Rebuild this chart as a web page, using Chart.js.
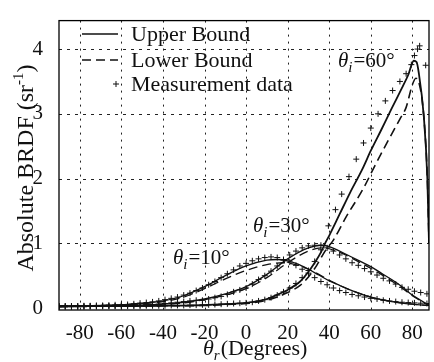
<!DOCTYPE html>
<html>
<head>
<meta charset="utf-8">
<script src="https://cdn.jsdelivr.net/npm/chart.js@4.4.1/dist/chart.umd.min.js"></script>
<style>
html, body { margin: 0; padding: 0; background: #fff; }
</style>
</head>
<body>
<canvas id="brdf" width="434" height="362"></canvas>
<script>
// axis ticks
const xTicks = [-80, -60, -40, -20, 0, 20, 40, 60, 80];
const yTicks = [0, 1, 2, 3, 4];

// measurement data, theta_i = 10
const meas10X = [-90, -87, -84, -81, -78, -75, -72, -69, -66, -63, -60, -57, -54, -51, -48, -45, -42, -39, -36, -33,
    -30, -27, -24, -21, -18, -15, -12, -9, -6, -3, 0, 3, 6, 9, 12, 15, 18, 21, 24, 27,
    30, 33, 36, 39, 42, 45, 48, 51, 54, 57, 60, 63, 66, 69, 72, 75, 78, 81, 84, 87];
const meas10Y = [.03, .03, .03, .03, .035, .035, .04, .04, .045, .05, .05, .055, .065, .075, .085, .095, .11, .13, .15, .17,
    .2, .23, .27, .31, .36, .41, .47, .53, .59, .65, .69, .73, .76, .78, .79, .78, .75, .71, .66, .6,
    .54, .47, .41, .36, .31, .27, .24, .21, .19, .17, .15, .14, .12, .11, .1, .09, .085, .08, .075, .07];

// measurement data, theta_i = 30
const meas30X = meas10X;
const meas30Y = [.02, .02, .02, .02, .02, .025, .025, .03, .03, .03, .035, .035, .04, .045, .05, .055, .06, .07, .08, .09,
    .1, .11, .12, .12, .14, .16, .18, .21, .25, .28, .31, .37, .44, .5, .57, .65, .74, .82, .88, .93,
    .96, .97, .97, .93, .88, .82, .76, .7, .66, .61, .56, .51, .46, .42, .37, .32, .29, .26, .24, .22];

// measurement data, theta_i = 60
const meas60X = [-90, -87, -84, -81, -78, -75, -72, -69, -66, -63, -60, -57, -54, -51, -48, -45, -42, -39, -36, -33,
    -30, -27, -24, -21, -18, -15, -12, -9, -6, -3, 0, 3, 6, 9, 12, 15, 18, 21, 24, 27,
    30, 33, 36, 39.6, 43, 46, 49.5, 53, 56.5, 60, 63.5, 67, 70.5, 74, 77, 79.5, 81, 82.5, 83.5, 86.4];
const meas60Y = [.03, .03, .03, .03, .03, .03, .03, .03, .03, .03, .03, .03, .03, .03, .035, .035, .035, .035, .04, .04,
    .04, .045, .045, .05, .05, .055, .06, .065, .07, .075, .08, .09, .11, .13, .16, .2, .25, .31, .38, .47,
    .58, .72, .9, 1.27, 1.52, 1.76, 2.03, 2.3, 2.55, 2.78, 3.0, 3.2, 3.36, 3.5, 3.62, 3.76, 3.9, 4.0, 4.05, 3.75];

// upper / lower bounds
const up10X = [-90, -60, -45, -40, -30, -20, -10, 0, 10, 15, 20, 25, 30, 35, 40, 45, 50, 55, 60, 70, 80, 88];
const up10Y = [.03, .05, .09, .11, .19, .33, .5, .65, .74, .75, .73, .68, .6, .51, .42, .35, .28, .22, .17, .1, .06, .04];
const low10X = [-90, -60, -40, -30, -20, -10, 0, 10, 18, 25, 30, 35, 40, 45, 50, 60, 70, 80, 88];
const low10Y = [.03, .05, .1, .17, .3, .45, .58, .67, .7, .66, .6, .52, .43, .35, .28, .17, .1, .06, .04];

const up30X = [-90, -40, -30, -20, -10, 0, 10, 20, 30, 36, 40, 45, 50, 55, 60, 65, 70, 75, 80, 84, 88];
const up30Y = [.02, .06, .09, .14, .22, .33, .52, .76, .93, .97, .95, .88, .8, .72, .64, .54, .44, .33, .2, .12, .04];
const low30X = [-90, -40, -30, -20, -10, 0, 10, 20, 30, 37, 45, 55, 65, 75, 80, 88];
const low30Y = [.02, .06, .08, .13, .2, .3, .47, .7, .88, .93, .86, .7, .52, .31, .19, .04];

const up60X = [-90, -60, -40, -20, -10, 0, 10, 16, 20, 26, 30, 33, 36, 38, 40, 45, 50, 56, 60, 65, 70, 75, 78, 80.7, 82, 83, 85.5, 87.2, 88, 88.6];
const up60Y = [.03, .03, .035, .045, .06, .08, .14, .22, .28, .41, .56, .7, .86, 1.0, 1.12, 1.45, 1.78, 2.15, 2.43, 2.75, 3.08, 3.4, 3.6, 3.82, 3.8, 3.65, 2.96, 2.0, 1.0, 0.2];
const low60X = [-90, -60, -40, -20, -10, 0, 10, 20, 26, 30, 34, 38, 42, 48, 56.3, 62, 68.9, 74, 77, 80, 81.7, 83, 85.5, 87.2, 88, 88.6];
const low60Y = [.03, .03, .035, .04, .055, .07, .12, .24, .35, .48, .66, .88, 1.05, 1.4, 1.84, 2.2, 2.62, 2.92, 3.1, 3.45, 3.55, 3.5, 2.96, 2.0, 1.0, 0.2];

const legendLabels = ['Upper Bound', 'Lower Bound', 'Measurement data'];

const FONT = '"Liberation Serif", "Times New Roman", serif';

const toPoints = (xs, ys) => {
    let pts = [];
    for (let i = 0; i < xs.length; i++) {
        pts.push({ x: xs[i], y: ys[i] });
    }
    return pts;
}

const lineSet = (xs, ys, dashed, width) => ({
    data: toPoints(xs, ys),
    showLine: true,
    borderColor: '#111',
    borderWidth: width,
    borderDash: dashed ? [9, 5] : [],
    pointRadius: 0,
    cubicInterpolationMode: 'monotone',
    fill: false
});

const markSet = (xs, ys) => ({
    data: toPoints(xs, ys),
    showLine: false,
    pointStyle: 'cross',
    pointRadius: 3,
    pointBorderWidth: 1,
    borderColor: '#111',
    backgroundColor: '#111'
});

// theta with italic subscript, then plain text
const drawTheta = (ctx, x, y, sub, rest, size) => {
    ctx.textBaseline = 'alphabetic';
    ctx.textAlign = 'left';
    ctx.font = 'italic ' + size + 'px ' + FONT;
    ctx.fillText('\u03b8', x, y);
    x += ctx.measureText('\u03b8').width;
    ctx.font = 'italic ' + Math.round(size * 0.7) + 'px ' + FONT;
    ctx.fillText(sub, x, y + size * 0.22);
    x += ctx.measureText(sub).width + 1;
    ctx.font = size + 'px ' + FONT;
    ctx.fillText(rest, x, y);
}

const gridPlugin = {
    id: 'gridBox',
    beforeDatasetsDraw(chart) {
        const { ctx, chartArea: a, scales } = chart;
        ctx.save();
        ctx.strokeStyle = '#222';
        ctx.lineWidth = 1;
        ctx.setLineDash([2, 5]);
        xTicks.forEach(v => {
            const px = Math.round(scales.x.getPixelForValue(v)) + 0.5;
            ctx.beginPath();
            ctx.moveTo(px, a.top);
            ctx.lineTo(px, a.bottom);
            ctx.stroke();
        });
        ctx.setLineDash([3, 5]);
        yTicks.forEach(v => {
            if (v === 0) return;
            const py = Math.round(scales.y.getPixelForValue(v)) + 0.5;
            ctx.beginPath();
            ctx.moveTo(a.left, py);
            ctx.lineTo(a.right, py);
            ctx.stroke();
        });
        ctx.restore();
    },
    afterDraw(chart) {
        const { ctx, chartArea: a } = chart;
        ctx.save();
        ctx.setLineDash([]);
        ctx.strokeStyle = '#000';
        ctx.lineWidth = 1.3;
        ctx.strokeRect(a.left, a.top, a.right - a.left, a.bottom - a.top);

        // legend inside the plot
        ctx.fillStyle = '#111';
        ctx.strokeStyle = '#111';
        const lx0 = 82, lx1 = 118, tx = 131;
        const rows = [34, 60, 84];
        ctx.lineWidth = 1.6;
        ctx.beginPath(); ctx.moveTo(lx0, rows[0]); ctx.lineTo(lx1, rows[0]); ctx.stroke();
        ctx.setLineDash([9, 5]);
        ctx.beginPath(); ctx.moveTo(lx0, rows[1]); ctx.lineTo(lx1, rows[1]); ctx.stroke();
        ctx.setLineDash([]);
        ctx.lineWidth = 1;
        ctx.beginPath();
        ctx.moveTo(116 - 3, rows[2]); ctx.lineTo(116 + 3, rows[2]);
        ctx.moveTo(116, rows[2] - 3); ctx.lineTo(116, rows[2] + 3);
        ctx.stroke();
        ctx.font = '22px ' + FONT;
        ctx.textBaseline = 'middle';
        ctx.textAlign = 'left';
        legendLabels.forEach((t, i) => ctx.fillText(t, tx, rows[i] + 1));

        // curve labels
        drawTheta(ctx, 338, 67, 'i', '=60\u00b0', 21);
        drawTheta(ctx, 253, 232, 'i', '=30\u00b0', 21);
        drawTheta(ctx, 173, 264, 'i', '=10\u00b0', 21);

        // x title
        drawTheta(ctx, 203, 355, 'r', '(Degrees)', 22);

        // y title, baseline on the right side after rotation
        ctx.translate(33, 168);
        ctx.rotate(-Math.PI / 2);
        ctx.font = '24px ' + FONT;
        ctx.textBaseline = 'alphabetic';
        const main = 'Absolute BRDF (sr';
        const w1 = ctx.measureText(main).width;
        ctx.font = '15px ' + FONT;
        const w2 = ctx.measureText('-1').width;
        ctx.font = '24px ' + FONT;
        const w3 = ctx.measureText(')').width;
        let x0 = -(w1 + w2 + w3) / 2;
        ctx.textAlign = 'left';
        ctx.fillText(main, x0, 0);
        ctx.font = '15px ' + FONT;
        ctx.fillText('-1', x0 + w1, -10);
        ctx.font = '24px ' + FONT;
        ctx.fillText(')', x0 + w1 + w2, 0);
        ctx.restore();
    }
};

const ctx = document.getElementById('brdf');
new Chart(ctx, {
    type: 'scatter',
    data: {
        datasets: [
            lineSet(up60X, up60Y, false, 1.8),
            lineSet(low60X, low60Y, true, 1.6),
            markSet(meas60X, meas60Y),
            lineSet(up30X, up30Y, false, 1.3),
            lineSet(low30X, low30Y, true, 1.3),
            markSet(meas30X, meas30Y),
            lineSet(up10X, up10Y, false, 1.3),
            lineSet(low10X, low10Y, true, 1.3),
            markSet(meas10X, meas10Y)
        ]
    },
    options: {
        responsive: false,
        animation: false,
        devicePixelRatio: 1,
        layout: { padding: { left: 0, top: 6, right: 1, bottom: 0 } },
        plugins: {
            legend: { display: false },
            tooltip: { enabled: false }
        },
        scales: {
            x: {
                type: 'linear',
                min: -90,
                max: 88,
                grid: { display: false },
                border: { display: false },
                afterBuildTicks: s => { s.ticks = xTicks.map(v => ({ value: v })); },
                afterFit: s => { s.height = 52; },
                ticks: {
                    color: '#111',
                    padding: 3,
                    maxRotation: 0,
                    font: { family: FONT, size: 21 }
                }
            },
            y: {
                type: 'linear',
                min: -0.03,
                max: 4.44,
                grid: { display: false },
                border: { display: false },
                afterBuildTicks: s => { s.ticks = yTicks.map(v => ({ value: v })); },
                afterFit: s => { s.width = 59; },
                ticks: {
                    color: '#111',
                    padding: 8,
                    font: { family: FONT, size: 21 }
                }
            }
        }
    },
    plugins: [gridPlugin]
});
</script>
</body>
</html>
